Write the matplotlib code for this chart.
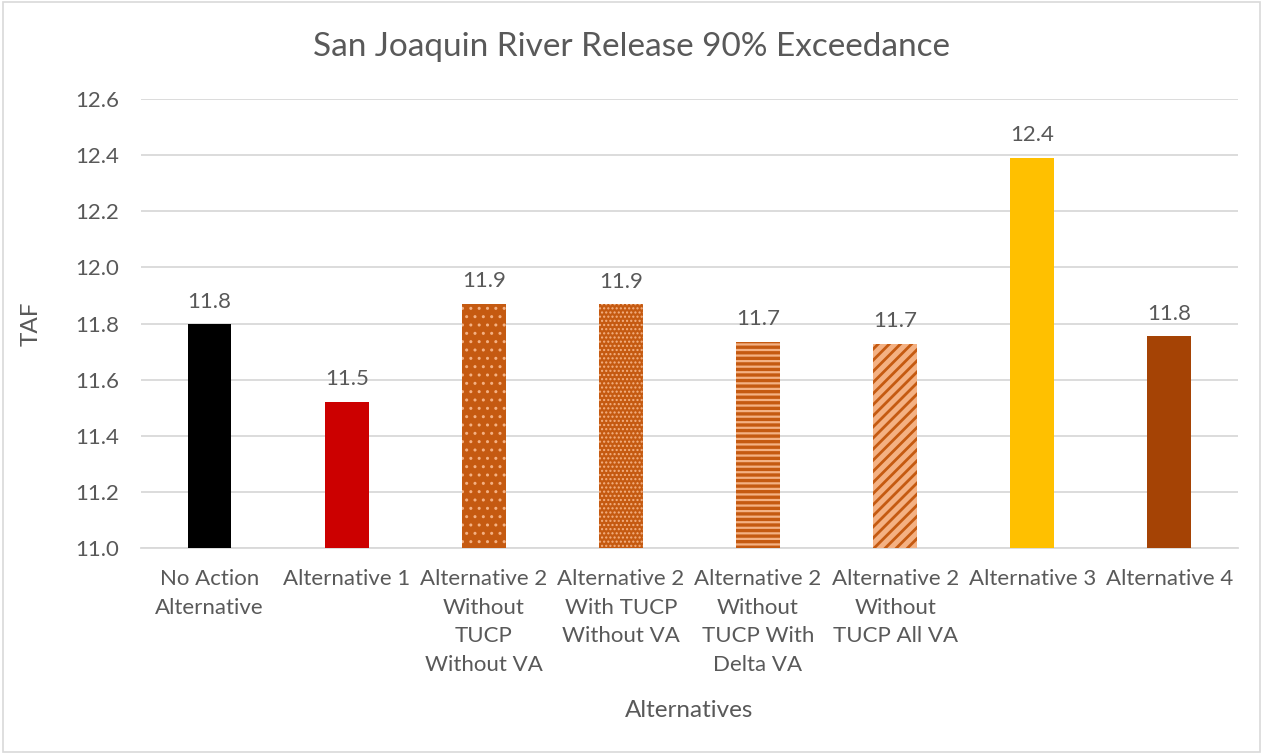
import numpy as np
import matplotlib.pyplot as plt

# 데이터
categories = ["No Action\nAlternative", "Alternative 1", "Alternative 2\nWithout\nTUCP\nWithout VA",
              "Alternative 2\nWith TUCP\nWithout VA", "Alternative 2\nWithout\nTUCP With\nDelta VA",
              "Alternative 2\nWithout\nTUCP All VA", "Alternative 3", "Alternative 4"]
values = [11.797, 11.522, 11.870, 11.868, 11.735, 11.728, 12.390, 11.755]
labels = ["11.8", "11.5", "11.9", "11.9", "11.7", "11.7", "12.4", "11.8"]

dark = "#C55A11"
light = "#F4B183"
faces = ["black", "#CC0000", dark, dark, light, light, "#FFC000", "#A54305"]
hatch_cols = ["black", "#CC0000", light, light, dark, dark, "#FFC000", "#A54305"]
hatches = [None, None, "..", "....", "---", "///", None, None]
hatch_lw = [1, 1, 1.0, 1.0, 2.4, 2.0, 1, 1]

plt.rcParams['font.family'] = ['Lato', 'DejaVu Sans']
txt = "#595959"

fig = plt.figure(figsize=(12.63, 7.54), dpi=100)
ax = fig.add_axes([0.1116, 0.2732, 0.8686, 0.5955])

x = np.arange(len(categories))
for i in range(len(categories)):
    plt.rcParams['hatch.linewidth'] = hatch_lw[i]
    b = ax.bar(x[i], values[i] - 11.0, bottom=11.0, width=0.32, color=faces[i],
               edgecolor=hatch_cols[i], linewidth=0, hatch=hatches[i], zorder=3)
    for p in b:
        try:
            p.set_hatch_linewidth(hatch_lw[i])
        except AttributeError:
            pass
    ax.text(x[i], values[i] + 0.045, labels[i], ha="center", va="bottom",
            fontsize=16, color=txt)

ax.set_ylim(11.0, 12.6)
ax.set_xlim(-0.5, len(categories) - 0.5)
ax.set_yticks(np.arange(11.0, 12.61, 0.2))
ax.set_yticklabels([f"{v:.1f}" for v in np.arange(11.0, 12.61, 0.2)])
ax.set_xticks(x)
ax.set_xticklabels(categories, linespacing=1.55)
ax.tick_params(axis="both", length=0, colors=txt, labelsize=16)
ax.tick_params(axis="x", pad=15)
ax.tick_params(axis="y", pad=16)
ax.grid(axis="y", color="#D9D9D9", linewidth=1.3, zorder=0)
for s in ["top", "right", "left"]:
    ax.spines[s].set_visible(False)
ax.spines["bottom"].set_color("#D9D9D9")
ax.spines["bottom"].set_linewidth(1.3)

ax.set_ylabel("TAF", fontsize=17.5, color=txt, labelpad=24)
ax.set_xlabel("Alternatives", fontsize=17.5, color=txt, labelpad=18)
fig.text(0.5, 0.938, "San Joaquin River Release 90% Exceedance", ha="center", va="center",
         fontsize=24, color=txt)

fig.patches.append(plt.Rectangle((0.002, 0.002), 0.996, 0.996, transform=fig.transFigure,
                                 fill=False, edgecolor="#D9D9D9", linewidth=1.2))

plt.savefig("out.png", dpi=100)
